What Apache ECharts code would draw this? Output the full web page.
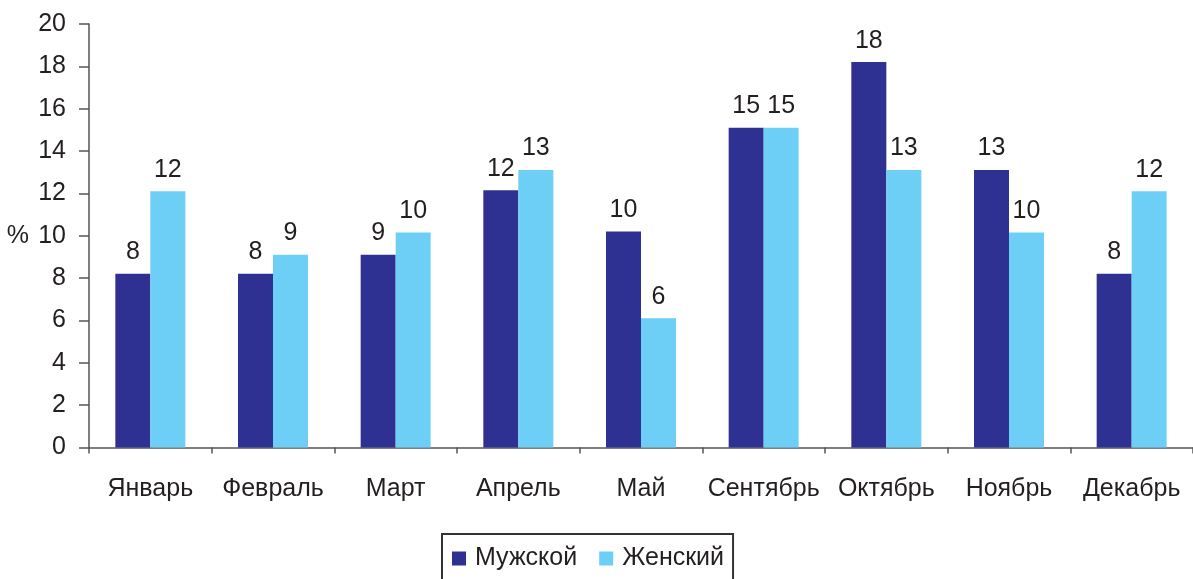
<!DOCTYPE html>
<html>
<head>
<meta charset="utf-8">
<script src="https://cdn.jsdelivr.net/npm/echarts@6/dist/echarts.min.js"></script>
<style>
html,body{margin:0;padding:0;background:#fff;}
#chart{width:1193px;height:579px;}
</style>
</head>
<body>
<div id="chart"></div>
<script>
const categories = ['Январь','Февраль','Март','Апрель','Май','Сентябрь','Октябрь','Ноябрь','Декабрь'];
const male = [8.2, 8.2, 9.1, 12.15, 10.2, 15.1, 18.2, 13.1, 8.2];
const female = [12.1, 9.1, 10.15, 13.1, 6.1, 15.1, 13.1, 10.15, 12.1];
const seriesNames = ['Мужской','Женский'];
const yTicks = {min: 0, max: 20, interval: 2};

const font = 'Liberation Sans, Arial, sans-serif';
const fs = 25;
const textColor = '#231f20';
const axisColor = '#555555';

const chart = echarts.init(document.getElementById('chart'));
const labelCfg = {
  show: true, position: 'top', distance: 9,
  fontFamily: font, fontSize: fs, color: textColor,
  formatter: p => Math.round(p.value)
};
chart.setOption({
  animation: false,
  backgroundColor: '#fff',
  grid: {left: 89, right: 0, top: 24, bottom: 131.5, containLabel: false, outerBoundsMode: 'none'},
  legend: {
    left: 442, top: 534,
    data: seriesNames,
    itemWidth: 14, itemHeight: 14, itemGap: 22,
    icon: 'rect',
    borderColor: '#333', borderWidth: 2,
    padding: [12, 9, 22, 10],
    textStyle: {fontFamily: font, fontSize: fs, color: textColor, padding: [0, 0, 0, 4]}
  },
  xAxis: {
    type: 'category', data: categories,
    axisLine: {lineStyle: {color: axisColor, width: 1.5}},
    axisTick: {show: true, length: 6, lineStyle: {color: axisColor, width: 1.5}},
    axisLabel: {fontFamily: font, fontSize: fs, color: textColor, margin: 29, interval: 0}
  },
  yAxis: {
    type: 'value', min: yTicks.min, max: yTicks.max, interval: yTicks.interval,
    name: '%', nameLocation: 'middle', nameRotate: 0, nameGap: 60,
    nameTextStyle: {fontFamily: font, fontSize: fs, color: textColor},
    axisLine: {show: true, lineStyle: {color: axisColor, width: 1.5}},
    axisTick: {show: true, length: 10, lineStyle: {color: axisColor, width: 1.5}},
    splitLine: {show: false},
    axisLabel: {fontFamily: font, fontSize: fs, color: textColor, margin: 23}
  },
  series: [
    {name: seriesNames[0], type: 'bar', data: male, barWidth: 35, barGap: '0%',
     itemStyle: {color: '#2e3192'}, label: labelCfg},
    {name: seriesNames[1], type: 'bar', data: female, barWidth: 35, barGap: '0%',
     itemStyle: {color: '#6dcff6'}, label: labelCfg}
  ]
});
</script>
</body>
</html>
